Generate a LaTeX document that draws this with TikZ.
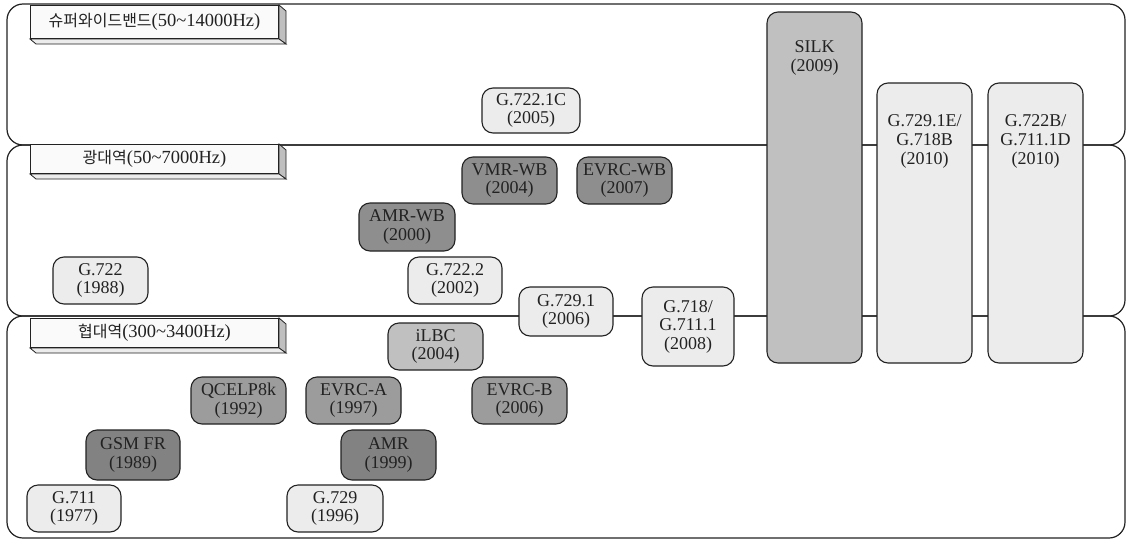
\documentclass[tikz,border=0pt]{standalone}
\usepackage{fontspec}
\setmainfont{Liberation Serif}
\newfontfamily\krfont{Noto Sans CJK KR}
\definecolor{clight}{HTML}{ECECEC}
\definecolor{cmid}{HTML}{C0C0C0}
\definecolor{cdarkA}{HTML}{8E8E8E}
\definecolor{cdarkB}{HTML}{9C9C9C}
\definecolor{cdarkC}{HTML}{828282}
\definecolor{ink}{HTML}{222222}
\newcommand{\kr}[1]{{\krfont\fontsize{16}{18}\selectfont #1}}
\begin{document}
\begin{tikzpicture}[x=1pt,y=-1pt,
  band/.style={draw=ink, line width=1.2pt, rounded corners=16pt},
  codec/.style={draw=ink, line width=1.1pt, rounded corners=11pt, align=center, inner sep=0pt, text=ink, font=\fontsize{18}{18.5}\selectfont, minimum width=95pt, minimum height=47pt},
  lightbox/.style={codec, fill=clight},
  midbox/.style={codec, fill=cmid},
  darkA/.style={codec, fill=cdarkA},
  darkB/.style={codec, fill=cdarkB},
  darkC/.style={codec, fill=cdarkC},
  talltext/.style={anchor=north, align=center, inner sep=0pt, text=ink, font=\fontsize{18}{19}\selectfont},
  tag/.style={draw=ink, line width=1pt, fill=gray!4, anchor=north west, minimum width=248pt, inner sep=0pt, font=\fontsize{18.5}{19}\selectfont, text=ink},
  tagside/.style={draw=ink, line width=0.8pt, fill=gray!50},
  tagbottom/.style={draw=ink, line width=0.8pt, fill=gray!15},
]
\useasboundingbox (0,0) rectangle (1126,541);
\fill[white] (0,0) rectangle (1126,541);

% bands
\draw[band] (7,4) rectangle (1125,145);
\draw[band] (7,145) rectangle (1125,316);
\draw[band] (7,316) rectangle (1125,538);

% band tags
\node[tag, minimum height=33pt] (t1) at (30,5) {\kr{슈퍼와이드밴드}(50\textasciitilde14000Hz)};
\node[tag, minimum height=29pt] (t2) at (30,144) {\kr{광대역}(50\textasciitilde7000Hz)};
\node[tag, minimum height=29pt] (t3) at (30,318) {\kr{협대역}(300\textasciitilde3400Hz)};
\foreach \t in {t1,t2,t3}{
  \draw[tagside] (\t.north east) -- ([shift={(7,6)}]\t.north east) -- ([shift={(7,5)}]\t.south east) -- (\t.south east) -- cycle;
  \draw[tagbottom] (\t.south west) -- ([shift={(6,5)}]\t.south west) -- ([shift={(7,5)}]\t.south east) -- (\t.south east) -- cycle;
}

% tall boxes
\node[midbox, minimum height=351pt] (silk) at (814.5,187.5) {};
\node[talltext] (silkt) at ([yshift=-29pt]silk.north) {SILK\\(2009)};
\node[lightbox, minimum height=280pt] (g7291e) at (924.5,223) {};
\node[talltext] (g7291et) at ([yshift=-32pt]g7291e.north) {G.729.1E/\\G.718B\\(2010)};
\node[lightbox, minimum height=280pt] (g722b) at (1035.5,223) {};
\node[talltext] (g722bt) at ([yshift=-32pt]g722b.north) {G.722B/\\G.711.1D\\(2010)};

% super wideband
\node[lightbox, minimum width=98pt, minimum height=45pt] (g7221c) at (531,110.5) {G.722.1C\\(2005)};

% wideband
\node[darkA] (vmrwb) at (509.5,180.5) {VMR-WB\\(2004)};
\node[darkA] (evrcwb) at (624.5,180.5) {EVRC-WB\\(2007)};
\node[darkA, minimum width=96pt, minimum height=48pt] (amrwb) at (407,227) {AMR-WB\\(2000)};
\node[lightbox] (g722) at (100.5,280.5) {G.722\\(1988)};
\node[lightbox, minimum width=94pt] (g7222) at (455,280.5) {G.722.2\\(2002)};
\node[lightbox, minimum width=94pt, minimum height=49pt] (g7291) at (566,311.5) {G.729.1\\(2006)};
\node[lightbox, minimum width=92pt, minimum height=79pt] (g718) at (688,326.5) {G.718/\\G.711.1\\(2008)};

% narrowband
\node[midbox] (ilbc) at (435.5,346.5) {iLBC\\(2004)};
\node[darkB] (qcelp) at (238.5,400.5) {QCELP8k\\(1992)};
\node[darkB] (evrca) at (353.5,400.5) {EVRC-A\\(1997)};
\node[darkB] (evrcb) at (519.5,400.5) {EVRC-B\\(2006)};
\node[darkC, minimum width=94pt, minimum height=50pt] (gsmfr) at (133,455) {GSM FR\\(1989)};
\node[darkC, minimum height=50pt] (amr) at (388.5,455) {AMR\\(1999)};
\node[lightbox, minimum width=94pt] (g711) at (74,508.5) {G.711\\(1977)};
\node[lightbox, minimum width=96pt] (g729) at (335,508.5) {G.729\\(1996)};
\end{tikzpicture}
\end{document}
